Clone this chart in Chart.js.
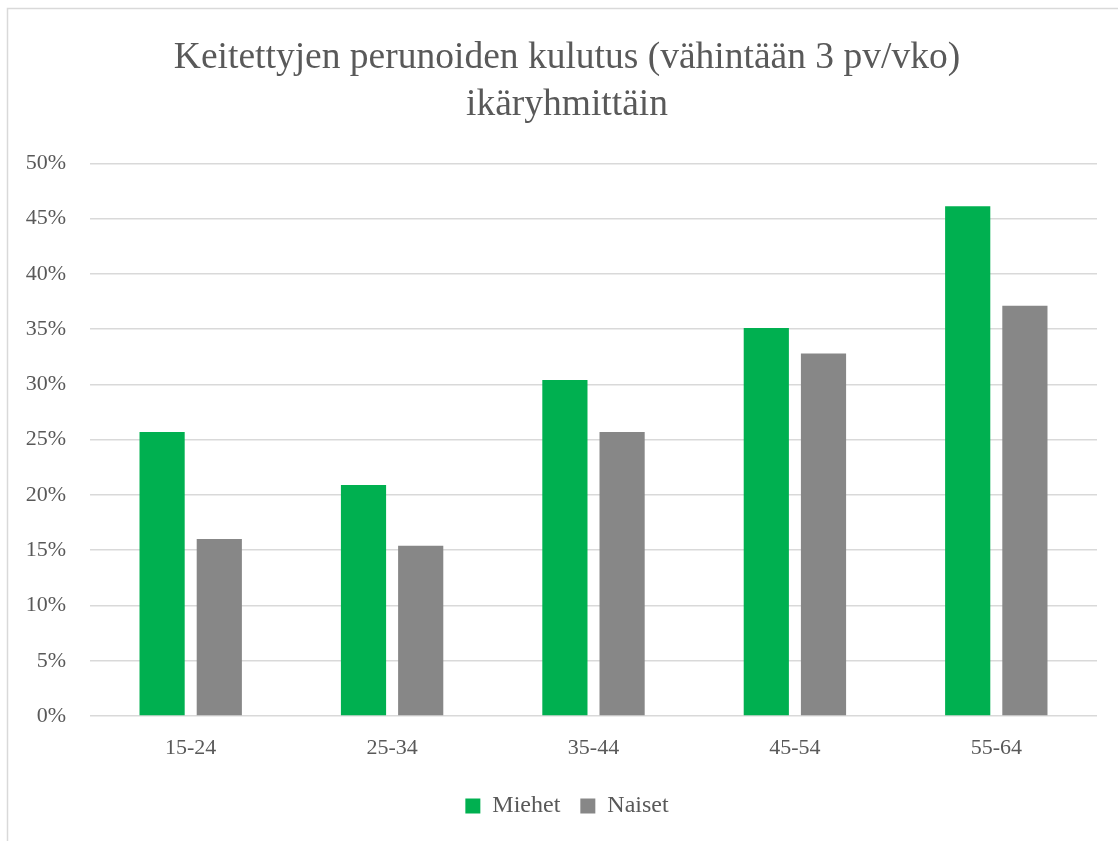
<!DOCTYPE html>
<html>
<head>
<meta charset="utf-8">
<script src="https://cdn.jsdelivr.net/npm/chart.js@4.4.0/dist/chart.umd.min.js"></script>
<style>
  html, body { margin: 0; padding: 0; background: #ffffff; }
  #wrap { position: relative; width: 1118px; height: 841px; }
  canvas { display: block; }
</style>
</head>
<body>
<div id="wrap"><canvas id="c" width="1118" height="841"></canvas></div>
<script>
const categories = ["15-24", "25-34", "35-44", "45-54", "55-64"];
const seriesNames = ["Miehet", "Naiset"];
const miehet = [25.7, 20.9, 30.4, 35.1, 46.1];
const naiset = [16.0, 15.4, 25.7, 32.8, 37.1];
const titleLines = ["Keitettyjen perunoiden kulutus (vähintään 3 pv/vko)", "ikäryhmittäin"];
const yMin = 0, yMax = 50, yStep = 5;

const FONT = "'Liberation Serif', 'Times New Roman', serif";
const TEXT = "#595959";

const frame = {
  id: 'frame',
  beforeDraw(chart) {
    const ctx = chart.ctx;
    ctx.save();
    ctx.fillStyle = '#ffffff';
    ctx.fillRect(0, 0, chart.width, chart.height);
    ctx.strokeStyle = '#d9d9d9';
    ctx.lineWidth = 1.5;
    ctx.beginPath();
    ctx.moveTo(7.5, chart.height);
    ctx.lineTo(7.5, 8.5);
    ctx.lineTo(chart.width, 8.5);
    ctx.stroke();
    ctx.restore();
  }
};

new Chart(document.getElementById('c'), {
  type: 'bar',
  data: {
    labels: categories,
    datasets: [
      { label: seriesNames[0], data: miehet, backgroundColor: '#00b050', borderWidth: 0,
        categoryPercentage: 0.568, barPercentage: 0.79 },
      { label: seriesNames[1], data: naiset, backgroundColor: '#878787', borderWidth: 0,
        categoryPercentage: 0.568, barPercentage: 0.79 }
    ]
  },
  options: {
    responsive: false,
    animation: false,
    layout: { padding: { left: 16, right: 0, top: 34, bottom: 13 } },
    plugins: {
      title: {
        display: true,
        text: titleLines,
        color: TEXT,
        font: { family: FONT, size: 37.5, weight: 'normal', lineHeight: 1.27 },
        padding: { top: 0, bottom: 34 }
      },
      legend: {
        position: 'bottom',
        labels: {
          color: TEXT,
          font: { family: FONT, size: 24 },
          boxWidth: 15, boxHeight: 15,
          padding: 20
        }
      },
      tooltip: { enabled: false }
    },
    scales: {
      x: {
        grid: { display: false, drawTicks: false },
        border: { display: false },
        ticks: { color: TEXT, font: { family: FONT, size: 22 }, padding: 19 },
        afterFit(scale) { scale.height = 58; }
      },
      y: {
        min: yMin, max: yMax,
        grid: { color: '#d9d9d9', lineWidth: 1.5, drawTicks: false },
        border: { display: false },
        ticks: {
          stepSize: yStep,
          color: TEXT,
          font: { family: FONT, size: 22 },
          padding: 24,
          callback: v => v + '%'
        },
        afterFit(scale) { scale.width = 74; }
      },
      yRight: {
        position: 'right',
        min: yMin, max: yMax,
        grid: { display: false, drawTicks: false },
        border: { display: false },
        ticks: { display: false },
        afterFit(scale) { scale.width = 21; }
      }
    }
  },
  plugins: [frame]
});
</script>
</body>
</html>
